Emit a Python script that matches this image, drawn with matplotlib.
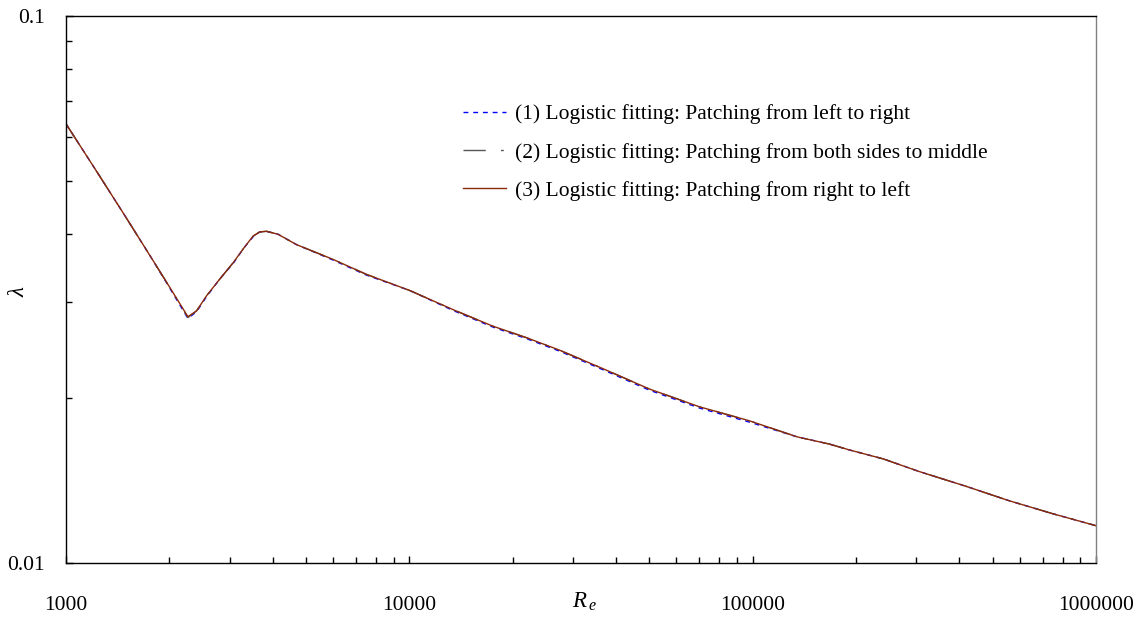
import numpy as np
import matplotlib.pyplot as plt
from matplotlib.ticker import LogLocator, NullFormatter, FixedLocator

plt.rcParams['font.family'] = ['Liberation Serif', 'DejaVu Serif']
plt.rcParams['mathtext.fontset'] = 'custom'
plt.rcParams['mathtext.it'] = 'Liberation Serif:italic'
plt.rcParams['mathtext.rm'] = 'Liberation Serif'

# Reynolds number and friction factor
Re = [1000, 1250, 1500, 1750, 2000, 2265, 2400, 2567, 2800, 3069, 3300, 3508,
      3668, 3837, 4147, 4691, 5993, 7500, 10015, 13500, 17510, 22000, 27370,
      37000, 50030, 70000, 97720, 135000, 167100, 191000, 240000, 305200,
      420000, 557800, 750000, 1000000]
lam_3 = [0.0635, 0.0511, 0.0427, 0.0366, 0.0320, 0.0282, 0.0289, 0.0308,
         0.0330, 0.0354, 0.0377, 0.0396, 0.0403, 0.0404, 0.0399, 0.0382,
         0.0359, 0.0337, 0.0315, 0.0290, 0.0271, 0.0258, 0.0245, 0.0226,
         0.0208, 0.0193, 0.0182, 0.0170, 0.0165, 0.0161, 0.0155, 0.0147,
         0.0138, 0.0130, 0.0123, 0.0117]
lam_1 = [0.0635, 0.0511, 0.0427, 0.0366, 0.0319, 0.0280, 0.0288, 0.0307,
         0.0330, 0.0353, 0.0377, 0.0395, 0.0403, 0.0404, 0.0399, 0.0382,
         0.0358, 0.0336, 0.0315, 0.0289, 0.0270, 0.0257, 0.0244, 0.0225,
         0.0207, 0.0192, 0.0181, 0.0170, 0.0165, 0.0161, 0.0155, 0.0147,
         0.0138, 0.0130, 0.0123, 0.0117]
lam_2 = [0.0635, 0.0511, 0.0427, 0.0366, 0.0320, 0.0281, 0.0289, 0.0308,
         0.0330, 0.0354, 0.0377, 0.0396, 0.0403, 0.0404, 0.0399, 0.0382,
         0.0359, 0.0337, 0.0315, 0.0290, 0.0271, 0.0258, 0.0245, 0.0226,
         0.0208, 0.0193, 0.0182, 0.0170, 0.0165, 0.0161, 0.0155, 0.0147,
         0.0138, 0.0130, 0.0123, 0.0117]
labels = ["(1) Logistic fitting: Patching from left to right",
          "(2) Logistic fitting: Patching from both sides to middle",
          "(3) Logistic fitting: Patching from right to left"]

fs = 15.5

fig = plt.figure(figsize=(11.45, 6.3), dpi=100)
ax = fig.add_axes([66/1145, 1-563/630, (1096-66)/1145, (563-16)/630])

ax.plot(Re, lam_1, color='#0000ff', lw=1, linestyle=(0, (3.5, 3.5)), label=labels[0])
ax.plot(Re, lam_2, color='#555555', lw=1, linestyle=(0, (16, 11, 2, 11)), label=labels[1])
ax.plot(Re, lam_3, color='#8b2a0a', lw=1, label=labels[2])

ax.set_xscale('log')
ax.set_yscale('log')
ax.set_xlim(1000, 1e6)
ax.set_ylim(0.01, 0.1)

ax.xaxis.set_major_locator(FixedLocator([1e3, 1e4, 1e5, 1e6]))
ax.set_xticklabels(['1000', '10000', '100000', '1000000'])
ax.yaxis.set_major_locator(FixedLocator([0.01, 0.1]))
ax.set_yticklabels(['0.01', '0.1'])
ax.xaxis.set_minor_locator(LogLocator(base=10, subs=np.arange(2, 10)))
ax.yaxis.set_minor_locator(LogLocator(base=10, subs=np.arange(2, 10)))
ax.xaxis.set_minor_formatter(NullFormatter())
ax.yaxis.set_minor_formatter(NullFormatter())

ax.tick_params(which='both', direction='in', labelsize=fs, width=1, colors='black')
ax.tick_params(which='major', length=5)
ax.tick_params(which='minor', length=4)
ax.tick_params(axis='x', pad=24)
ax.tick_params(axis='y', pad=15)
for s in ax.spines.values():
    s.set_linewidth(1)
ax.spines['right'].set_color('#808080')

ax.set_xlabel(r'$R_{\,e}$', fontsize=fs + 1)
ax.xaxis.set_label_coords(0.503, -0.05)
ax.xaxis.label.set_va('top')
ax.set_ylabel(r'$\lambda$', fontsize=fs + 1)
ax.yaxis.set_label_coords(-0.046, 0.497)
ax.yaxis.label.set_va('center')

ax.legend(loc='upper left', bbox_to_anchor=(0.385, 0.839), frameon=False,
          fontsize=fs, handlelength=2.0, handletextpad=0.45, labelspacing=0.85,
          borderpad=0, borderaxespad=0)

fig.savefig('out.png', dpi=100)
